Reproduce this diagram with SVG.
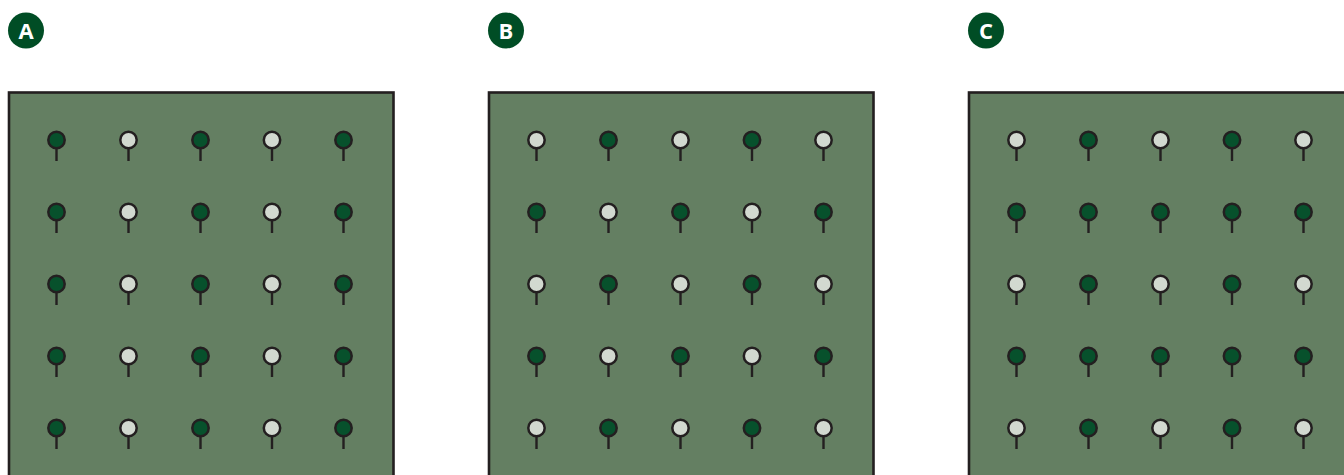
<svg xmlns="http://www.w3.org/2000/svg" xmlns:xlink="http://www.w3.org/1999/xlink" width="1344" height="475" viewBox="0 0 1344 475">
<style>
.panel{fill:#647f62;stroke:#231f20;stroke-width:2.6}
.badge{fill:#004d25}
.lbl{font-family:"Open Sans","Liberation Sans",sans-serif;font-weight:bold;font-size:22px;fill:#fff;text-anchor:middle}
.stem{stroke:#231f20;stroke-width:2.4}
.d{fill:#07512c;stroke:#231f20;stroke-width:2.5}
.l{fill:#d2d9d0;stroke:#231f20;stroke-width:2.5}
</style>
<defs>
<g id="pd"><line class="stem" x1="0" y1="0" x2="0" y2="21"/><circle class="d" cx="0" cy="0" r="8.2"/></g>
<g id="pl"><line class="stem" x1="0" y1="0" x2="0" y2="21"/><circle class="l" cx="0" cy="0" r="8.2"/></g>
</defs>
<g id="panelA">
<rect class="panel" x="9" y="92.5" width="384.5" height="400"/>
<circle class="badge" cx="26" cy="30.5" r="18"/>
<text class="lbl" x="26" y="38.5">A</text>
<g>
<use href="#pd" x="56.5" y="140"/><use href="#pl" x="128.5" y="140"/><use href="#pd" x="200.5" y="140"/><use href="#pl" x="272" y="140"/><use href="#pd" x="343.5" y="140"/>
<use href="#pd" x="56.5" y="212"/><use href="#pl" x="128.5" y="212"/><use href="#pd" x="200.5" y="212"/><use href="#pl" x="272" y="212"/><use href="#pd" x="343.5" y="212"/>
<use href="#pd" x="56.5" y="284"/><use href="#pl" x="128.5" y="284"/><use href="#pd" x="200.5" y="284"/><use href="#pl" x="272" y="284"/><use href="#pd" x="343.5" y="284"/>
<use href="#pd" x="56.5" y="356"/><use href="#pl" x="128.5" y="356"/><use href="#pd" x="200.5" y="356"/><use href="#pl" x="272" y="356"/><use href="#pd" x="343.5" y="356"/>
<use href="#pd" x="56.5" y="428"/><use href="#pl" x="128.5" y="428"/><use href="#pd" x="200.5" y="428"/><use href="#pl" x="272" y="428"/><use href="#pd" x="343.5" y="428"/>
</g>
</g>
<g id="panelB">
<rect class="panel" x="489" y="92.5" width="384.5" height="400"/>
<circle class="badge" cx="506" cy="30.5" r="18"/>
<text class="lbl" x="506" y="38.5">B</text>
<g>
<use href="#pl" x="536.5" y="140"/><use href="#pd" x="608.5" y="140"/><use href="#pl" x="680.5" y="140"/><use href="#pd" x="752" y="140"/><use href="#pl" x="823.5" y="140"/>
<use href="#pd" x="536.5" y="212"/><use href="#pl" x="608.5" y="212"/><use href="#pd" x="680.5" y="212"/><use href="#pl" x="752" y="212"/><use href="#pd" x="823.5" y="212"/>
<use href="#pl" x="536.5" y="284"/><use href="#pd" x="608.5" y="284"/><use href="#pl" x="680.5" y="284"/><use href="#pd" x="752" y="284"/><use href="#pl" x="823.5" y="284"/>
<use href="#pd" x="536.5" y="356"/><use href="#pl" x="608.5" y="356"/><use href="#pd" x="680.5" y="356"/><use href="#pl" x="752" y="356"/><use href="#pd" x="823.5" y="356"/>
<use href="#pl" x="536.5" y="428"/><use href="#pd" x="608.5" y="428"/><use href="#pl" x="680.5" y="428"/><use href="#pd" x="752" y="428"/><use href="#pl" x="823.5" y="428"/>
</g>
</g>
<g id="panelC">
<rect class="panel" x="969" y="92.5" width="384.5" height="400"/>
<circle class="badge" cx="986" cy="30.5" r="18"/>
<text class="lbl" x="986" y="38.5">C</text>
<g>
<use href="#pl" x="1016.5" y="140"/><use href="#pd" x="1088.5" y="140"/><use href="#pl" x="1160.5" y="140"/><use href="#pd" x="1232" y="140"/><use href="#pl" x="1303.5" y="140"/>
<use href="#pd" x="1016.5" y="212"/><use href="#pd" x="1088.5" y="212"/><use href="#pd" x="1160.5" y="212"/><use href="#pd" x="1232" y="212"/><use href="#pd" x="1303.5" y="212"/>
<use href="#pl" x="1016.5" y="284"/><use href="#pd" x="1088.5" y="284"/><use href="#pl" x="1160.5" y="284"/><use href="#pd" x="1232" y="284"/><use href="#pl" x="1303.5" y="284"/>
<use href="#pd" x="1016.5" y="356"/><use href="#pd" x="1088.5" y="356"/><use href="#pd" x="1160.5" y="356"/><use href="#pd" x="1232" y="356"/><use href="#pd" x="1303.5" y="356"/>
<use href="#pl" x="1016.5" y="428"/><use href="#pd" x="1088.5" y="428"/><use href="#pl" x="1160.5" y="428"/><use href="#pd" x="1232" y="428"/><use href="#pl" x="1303.5" y="428"/>
</g>
</g>
<g id="connectors"/>
</svg>
